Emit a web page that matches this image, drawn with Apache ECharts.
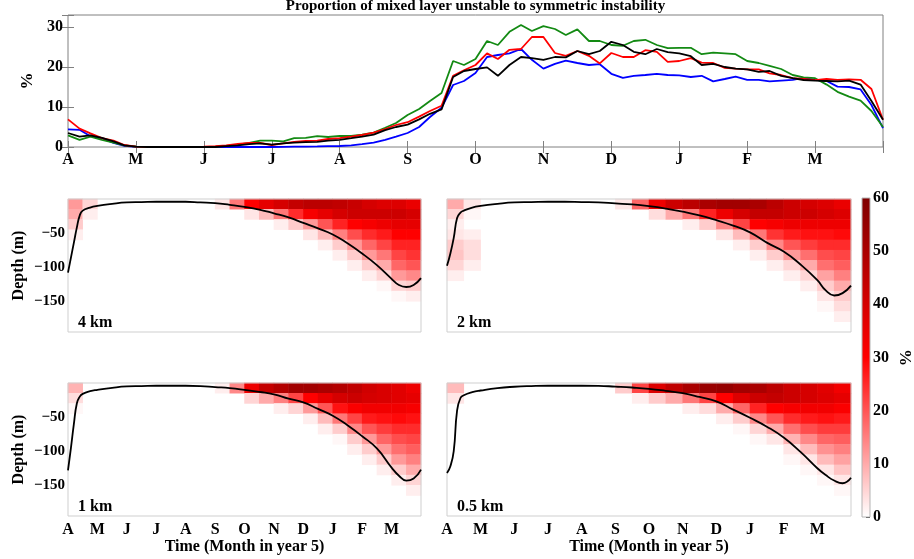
<!DOCTYPE html>
<html><head><meta charset="utf-8">
<script src="https://cdn.jsdelivr.net/npm/echarts@6/dist/echarts.min.js"></script>
<style>html,body{margin:0;padding:0;background:#fff}#c{width:914px;height:559px}</style>
</head><body><div id="c"></div>
<script>
const monthLabels = ['A','M','J','J','A','S','O','N','D','J','F','M'];
const sampleMonth = [0,0.17,0.33,0.5,0.67,0.83,1,1.17,1.33,1.5,1.67,1.83,2,2.17,2.33,2.5,2.67,2.83,3,3.17,3.33,3.5,3.67,3.83,4,4.17,4.33,4.5,4.67,4.83,5,5.17,5.33,5.5,5.67,5.83,6,6.17,6.33,6.5,6.67,6.83,7,7.17,7.33,7.5,7.67,7.83,8,8.17,8.33,8.5,8.67,8.83,9,9.17,9.33,9.5,9.67,9.83,10,10.17,10.33,10.5,10.67,10.83,11,11.17,11.33,11.5,11.67,11.83,12];
const redSeries = [6.9,4.6,3.4,2.2,1.6,0.5,0.1,0.05,0,0, 0,0.05,0.1,0.2,0.4,0.8,1.0,1.0,0.5,0.9, 1.3,1.5,1.6,2.0,2.2,2.6,3.0,3.6,4.5,5.5, 6.2,7.6,9.0,10.3,17.8,19.2,20.5,23.4,22.0,24.3, 24.5,27.5,27.5,23.5,22.8,24.0,22.8,20.9,23.5,22.5, 22.5,24.2,23.8,21.3,21.5,22.2,21.1,21.0,19.8,19.6, 19.4,19.4,18.4,18.0,17.2,17.0,16.7,17.0,16.8,16.9, 16.8,14.5,6.8];
const blueSeries = [4.4,4.3,2.7,2.2,1.0,0.3,0.05,0,0,0, 0,0,0,0,0,0,0,0,0,0.05, 0.1,0.1,0.15,0.2,0.25,0.4,0.7,1.1,1.8,2.6, 3.5,5.0,7.5,9.8,15.5,16.5,18.5,22.5,23.0,23.4, 24.5,21.8,19.6,20.8,21.6,21.0,20.5,20.7,18.3,17.3, 17.8,18.0,18.3,18.0,17.9,17.5,17.8,16.4,17.0,17.6, 16.8,16.8,16.4,16.6,16.8,17.3,16.8,16.5,15.1,15.0, 14.4,10.5,4.7];
const blackSeries = [3.5,2.6,2.9,2.3,1.4,0.4,0.1,0,0,0, 0,0,0,0,0.2,0.4,0.7,0.9,0.6,0.9, 1.1,1.2,1.3,1.6,1.8,2.2,2.6,3.1,4.2,5.0, 5.6,6.9,8.3,9.4,17.5,19.0,19.5,19.9,17.8,20.5, 22.5,22.2,21.8,22.5,22.4,24.0,23.2,24.0,26.3,25.5, 23.8,23.2,24.5,23.7,23.4,22.7,20.5,20.8,20.0,19.6, 19.4,18.8,19.0,17.8,17.2,16.75,16.6,16.5,16.4,16.6, 15.6,11.5,6.8];
const greenSeries = [2.9,1.8,2.6,1.8,1.1,0.4,0.1,0,0,0, 0,0,0,0.1,0.3,0.6,1.0,1.6,1.6,1.4, 2.2,2.3,2.7,2.5,2.8,2.75,3.1,3.6,4.8,6.0, 8.0,9.5,11.5,13.5,21.5,20.5,22.0,26.5,25.5,28.8, 30.5,29.0,30.2,29.5,28.0,29.4,26.5,26.5,25.5,25.3, 26.5,26.8,25.5,24.7,24.8,24.8,23.2,23.6,23.4,23.2, 21.5,21.0,20.3,19.5,18.0,17.4,17.2,15.6,13.8,12.6, 11.6,9.0,5.0];

// mixed layer depth lines (m) for the four resolutions
const mldMonth = [0,0.1,0.2,0.3,0.4,0.5,0.75,1,1.5,2,2.5,3,3.5,4,4.5,5,5.5,6,6.5,7,7.5,8,8.5,9,9.5,10,10.5,11,11.25,11.5,11.75,12];
const mld4km = [-108,-86,-64,-42,-24,-17,-12.5,-10,-7,-5,-4.5,-4,-4,-4,-5,-6,-8.5,-11.5,-15.5,-21,-27,-35,-43,-52,-65,-80,-97,-117,-126,-129,-126,-116];
const mld2km = [-98,-80,-57,-28,-20,-17,-12.5,-10,-7,-5,-4.5,-4,-4,-4.5,-5,-6.5,-8,-10.5,-14,-18.5,-24,-31,-39,-49,-64,-77,-96,-119,-134,-141.5,-138,-127];
const mld1km = [-128,-95,-60,-30,-20,-16,-12,-10,-7,-5,-4.5,-4,-4,-4,-4.5,-6,-7.5,-10,-13,-16.5,-23,-28.5,-38,-48,-62,-78,-96,-124,-136,-143,-140,-127];
const mld05km = [-132,-122,-100,-40,-22,-18,-13.5,-11,-7.4,-5.5,-4.5,-4,-4,-4,-4.2,-5.3,-6.6,-8.5,-11.5,-15,-20.5,-27,-39,-51,-64,-80,-101,-125,-135,-143,-147,-139];

// heatmap cells: 24 half-month columns, each a depth profile (15 m bins from surface); missing cells = 0
const heatCols = ['Apr1','Apr2','May1','May2','Jun1','Jun2','Jul1','Jul2','Aug1','Aug2','Sep1','Sep2','Oct1','Oct2','Nov1','Nov2','Dec1','Dec2','Jan1','Jan2','Feb1','Feb2','Mar1','Mar2'];
const depthBins = ['0-15','15-30','30-45','45-60','60-75','75-90','90-105','105-120','120-135','135-150','150-165','165-180','180-195'];
const si4km = [[12,10,6,2],[5,2],[],[],[],[],[],[],[],[],[3],[16],[30,3],[36,8],[40,16,2],[44,25,6],[46,32,12,3],[46,36,20,8,2],[45,40,26,15,6,2],[43,42,30,21,12,6,2],[40,42,32,25,18,12,6,2],[38,42,34,27,22,16,10,5,1],[38,42,36,30,26,22,18,12,5,1],[35,40,36,30,26,24,20,14,6,2]];
const si2km = [[10,5,2,3,6,7,5,2],[3,1,0,2,4,4,2],[],[],[],[],[],[],[],[],[3],[18],[34,4],[42,10],[46,16,2],[50,26,6],[52,34,14,3],[52,40,22,8,2],[50,44,30,16,6,2],[46,44,32,24,14,6,2],[42,42,34,27,20,12,5,2],[40,42,34,28,23,17,10,5,2],[38,40,34,28,25,21,17,11,6,3,1],[35,38,34,29,25,22,19,15,10,6,4,2]];
const si1km = [[9,4,1],[],[],[],[],[],[],[],[],[],[2],[14],[34,5],[44,10],[48,15,2],[52,22,5],[52,30,12,2],[50,36,20,8,2],[48,40,28,16,6,1],[45,42,31,22,14,6,2],[41,40,33,27,20,12,6,2],[39,39,33,28,23,18,12,6,2],[37,37,33,29,25,21,17,12,6,2],[34,36,32,28,25,22,19,15,10,5,2]];
const si05km = [[8,3],[],[],[],[],[],[],[],[],[],[6],[22,2],[38,6],[45,10],[50,16,2],[54,22,4],[55,30,10,2],[52,38,18,6,1],[50,42,26,14,5,1],[46,44,30,20,10,3],[42,42,32,25,17,9,3,1],[40,40,33,27,21,14,8,3,1],[37,38,33,28,23,18,13,8,3,1],[33,36,31,27,23,19,15,11,7,3,1]];
const colorbarTicks = [0,10,20,30,40,50,60];
const colorbarMax = [60];
const colorStops = ['#ffffff','#ff0000','#800000'];

const FONT = '"Liberation Serif","Times New Roman",serif';
const lbl = (extra) => Object.assign({fontFamily:FONT, fontWeight:'bold', fontSize:16, color:'#000'}, extra||{});
const pairs = (xs, ys) => xs.map((x,i)=>[x, ys[i]]);
const heatData = (cols) => { const d=[]; cols.forEach((col,ci)=>col.forEach((v,ri)=>{ if (v>0) d.push([ci,ri,v]); })); return d; };

const panels = [
  {grid:1, data:si4km, mld:mld4km, label:'4 km', labels:false, yl:true},
  {grid:2, data:si2km, mld:mld2km, label:'2 km', labels:false, yl:false},
  {grid:3, data:si1km, mld:mld1km, label:'1 km', labels:true, yl:true},
  {grid:4, data:si05km, mld:mld05km, label:'0.5 km', labels:true, yl:false}
];
const gridBoxes = [
  {left:68, top:15, width:815, height:132},
  {left:68, top:199, width:353, height:133},
  {left:447, top:199, width:404, height:133},
  {left:68, top:383, width:353, height:133},
  {left:447, top:383, width:404, height:133},
  {left:862, top:198, width:13, height:319}
];

const xAxis = [], yAxis = [], series = [];
xAxis.push({gridIndex:0, type:'value', min:0, max:12, interval:1, position:'bottom',
  axisLine:{show:false}, splitLine:{show:false},
  axisTick:{show:true, inside:true, length:6, lineStyle:{color:'#808080'}},
  axisLabel:lbl({margin:5, formatter:v=>monthLabels[v]||''})});
xAxis.push({gridIndex:0, type:'value', min:0, max:12, interval:1, position:'top',
  axisLine:{show:false}, splitLine:{show:false}, axisLabel:{show:false},
  axisTick:{show:true, inside:true, length:6, lineStyle:{color:'#808080'}}});
yAxis.push({gridIndex:0, type:'value', min:0, max:33, interval:10, position:'left',
  axisLine:{show:false}, splitLine:{show:false},
  axisTick:{show:true, inside:true, length:6, lineStyle:{color:'#808080'}},
  axisLabel:lbl({margin:5, formatter:v=>(v%10===0?String(v):'')}),
  name:'%', nameLocation:'middle', nameGap:19, nameRotate:90, nameTextStyle:lbl({fontSize:17})});
yAxis.push({gridIndex:0, type:'value', min:0, max:33, interval:10, position:'right',
  axisLine:{show:false}, splitLine:{show:false}, axisLabel:{show:false},
  axisTick:{show:true, inside:true, length:6, lineStyle:{color:'#808080'}}});

const lineDefs = [['#0000ff', blueSeries], ['#138a13', greenSeries], ['#ff0000', redSeries], ['#000000', blackSeries]];
lineDefs.forEach(([c, ys]) => series.push({type:'line', xAxisIndex:0, yAxisIndex:0, data:pairs(sampleMonth, ys),
  showSymbol:false, symbol:'none', lineStyle:{color:c, width:1.8}, silent:true, z:5}));

const heatSeriesIdx = [];
const mldSeries = [];
panels.forEach(p => {
  const xv = xAxis.length;
  xAxis.push({gridIndex:p.grid, type:'value', min:0, max:12, interval:1, position:'bottom',
    axisLine:{show:false}, splitLine:{show:false}, axisTick:{show:false},
    axisLabel: p.labels ? lbl({margin:6, formatter:v=>monthLabels[v]||''}) : {show:false},
    name: p.labels ? 'Time (Month in year 5)' : '', nameLocation:'middle', nameGap:19, nameTextStyle:lbl()});
  const xc = xAxis.length;
  xAxis.push({gridIndex:p.grid, type:'category', data:heatCols, show:false});
  const yv = yAxis.length;
  yAxis.push({gridIndex:p.grid, type:'value', min:-195, max:0, minInterval:50, maxInterval:50,
    axisLine:{show:false}, splitLine:{show:false}, axisTick:{show:false},
    axisLabel: p.yl ? lbl({fontSize:15, margin:3, formatter:v=>([-50,-100,-150].includes(v)?'\u2212'+Math.abs(v):'')}) : {show:false},
    name: p.yl ? 'Depth (m)' : '', nameLocation:'middle', nameGap:41, nameRotate:90, nameTextStyle:lbl()});
  const yc = yAxis.length;
  yAxis.push({gridIndex:p.grid, type:'category', data:depthBins, inverse:true, show:false});
  heatSeriesIdx.push(series.length);
  series.push({type:'heatmap', xAxisIndex:xc, yAxisIndex:yc, data:heatData(p.data), silent:true, z:2,
    itemStyle:{borderWidth:0}});
  mldSeries.push({type:'line', xAxisIndex:xv, yAxisIndex:yv, data:pairs(mldMonth, p.mld), showSymbol:false, symbol:'none',
    smooth:0.5, lineStyle:{color:'#000', width:1.8}, silent:true, z:6});
});
mldSeries.forEach(s => series.push(s));

// colorbar
const cbX = xAxis.length;
xAxis.push({gridIndex:5, type:'category', data:['%'], show:false});
const cbY = yAxis.length;
yAxis.push({gridIndex:5, type:'value', min:0, max:60, interval:10, position:'right',
  axisLine:{show:false}, splitLine:{show:false},
  axisTick:{show:true, inside:true, length:4, lineStyle:{color:'#333'}},
  axisLabel:lbl({margin:3, formatter:v=>(colorbarTicks.includes(v)?String(v):'')}),
  name:'%', nameLocation:'middle', nameGap:26, nameRotate:-90, nameTextStyle:lbl({fontSize:17})});
series.push({type:'bar', xAxisIndex:cbX, yAxisIndex:cbY, data:colorbarMax, barWidth:'100%', silent:true, z:1,
  itemStyle:{color:new echarts.graphic.LinearGradient(0,1,0,0,[
    {offset:0,color:colorStops[0]},{offset:0.5,color:colorStops[1]},{offset:1,color:colorStops[2]}])}});

const grids = gridBoxes.map((g,i) => Object.assign({show:true, borderWidth:1, backgroundColor:'transparent', z:3,
  borderColor: i===0 ? '#808080' : (i===5 ? '#b4b4b4' : '#cfcfcf')}, g));

const graphic = [{type:'text', x:475.5, y:6, z:100, style:{text:'Proportion of mixed layer unstable to symmetric instability',
  fontFamily:FONT, fontWeight:'bold', fontSize:15, fill:'#000', align:'center', verticalAlign:'middle'}}];
panels.forEach(p => {
  const g = gridBoxes[p.grid];
  graphic.push({type:'text', x:g.left+10, y:g.top+g.height-9, z:100, style:{text:p.label, fontFamily:FONT, fontWeight:'bold',
    fontSize:16, fill:'#000', align:'left', verticalAlign:'middle'}});
});

const chart = echarts.init(document.getElementById('c'), null, {renderer:'canvas'});
chart.setOption({
  animation:false,
  backgroundColor:'#fff',
  grid:grids,
  xAxis, yAxis, series, graphic,
  visualMap:{type:'continuous', min:0, max:60, seriesIndex:heatSeriesIdx, show:false,
    inRange:{color:colorStops}}
});
</script></body></html>
